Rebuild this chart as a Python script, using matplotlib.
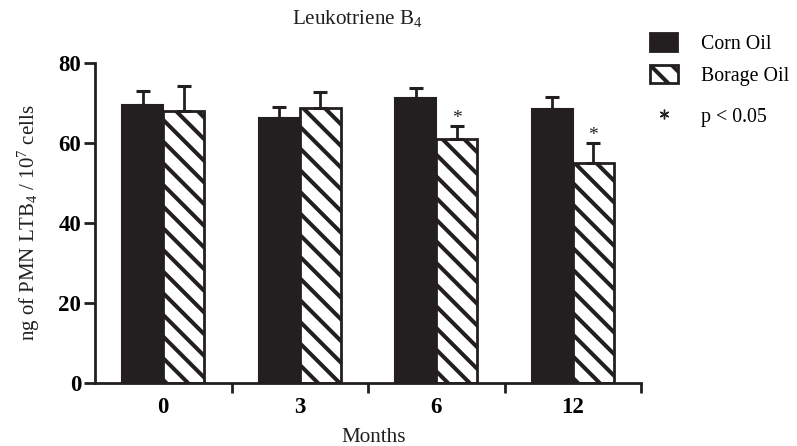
import matplotlib.pyplot as plt
import numpy as np
from matplotlib.patches import Patch
from matplotlib.lines import Line2D

DPI = 130
k = 100 / DPI  # sizes below are tuned as if at 100 dpi

plt.rcParams['font.family'] = ['Liberation Serif', 'DejaVu Serif']
plt.rcParams['mathtext.fontset'] = 'custom'
plt.rcParams['mathtext.rm'] = 'Liberation Serif'
plt.rcParams['mathtext.it'] = 'Liberation Serif:italic'
plt.rcParams['hatch.linewidth'] = 2.9 * k
plt.rcParams['hatch.color'] = '#231f20'

months = ['0', '3', '6', '12']
corn = np.array([69.5, 66.2, 71.2, 68.5])
corn_err = np.array([3.6, 2.8, 2.5, 3.1])
borage = np.array([68.1, 68.7, 61.0, 55.1])
borage_err = np.array([6.1, 4.0, 3.2, 4.9])
signif = [False, False, True, True]

ink = '#231f20'
fig = plt.figure(figsize=(797 / DPI, 446 / DPI), dpi=DPI)
ax = fig.add_axes([95 / 797, 63 / 446, 546 / 797, 320 / 446])

ind = np.arange(len(months))
w = 0.30
ax.bar(ind - w/2, corn, width=w, color=ink, edgecolor=ink, linewidth=1.5 * k)
ax.bar(ind + w/2, borage, width=w, color='white', edgecolor=ink, linewidth=2 * k, hatch='\\\\')
for x, y, e in [(ind - w/2, corn, corn_err), (ind + w/2, borage, borage_err)]:
    ax.errorbar(x, y, yerr=[np.zeros(4), e], fmt='none', ecolor=ink,
                elinewidth=2 * k, capsize=5 * k, capthick=2.2 * k)
for i, s in enumerate(signif):
    if s:
        ax.text(ind[i] + w/2, borage[i] + borage_err[i] - 0.2, '*', ha='center', va='bottom',
                fontsize=14 * k, color=ink)

ax.set_xlim(-0.5, 3.5)
ax.set_ylim(0, 80)
ax.set_yticks([0, 20, 40, 60, 80])
ax.set_xticks(ind)
ax.set_xticklabels(months, fontweight='bold', fontsize=16.5 * k)
ax.set_xticks([0.5, 1.5, 2.5, 3.5], minor=True)
ax.tick_params(axis='x', which='major', length=0, pad=10 * k)
ax.tick_params(axis='x', which='minor', length=7 * k, width=2 * k, direction='out', color=ink)
ax.tick_params(axis='y', length=8 * k, width=2 * k, labelsize=16.5 * k, pad=2 * k, color=ink)
for lab in ax.get_yticklabels():
    lab.set_fontweight('bold')
for sp in ['top', 'right']:
    ax.spines[sp].set_visible(False)
for sp in ['left', 'bottom']:
    ax.spines[sp].set_linewidth(2 * k)
    ax.spines[sp].set_color(ink)

fig.text(357.5 / 797, 1 - 24 / 446, 'Leukotriene B$_4$', fontsize=15.2 * k,
         ha='center', va='baseline', color=ink)
ax.set_ylabel('ng of PMN LTB$_4$ / 10$^7$ cells', fontsize=15 * k, color=ink)
ax.yaxis.label.set_va('center')
ax.yaxis.set_label_coords((29 - 95) / 546, 0.5)
ax.set_xlabel('Months', fontsize=15.2 * k, color=ink)
ax.xaxis.label.set_va('center')
ax.xaxis.set_label_coords(0.51, (383 - 437) / 320)

leg_kw = dict(loc='upper left', frameon=False, fontsize=14.3 * k, borderpad=0,
              borderaxespad=0, handlelength=1.4, handleheight=1.06, handletextpad=1.15)
handles = [Patch(facecolor=ink, edgecolor=ink),
           Patch(facecolor='white', edgecolor=ink, hatch='\\\\', linewidth=2 * k)]
leg1 = fig.legend(handles, ['Corn Oil', 'Borage Oil'], bbox_to_anchor=(650 / 797, 1 - 33 / 446),
                  labelspacing=0.53, **leg_kw)
star = [Line2D([], [], marker=(6, 2, 0), linestyle='none', color=ink,
               markersize=7 * k, markeredgewidth=1 * k)]
fig.legend(star, ['p < 0.05'], bbox_to_anchor=(650 / 797, 1 - 106 / 446), **leg_kw)

fig.savefig('out.png', dpi=DPI)
